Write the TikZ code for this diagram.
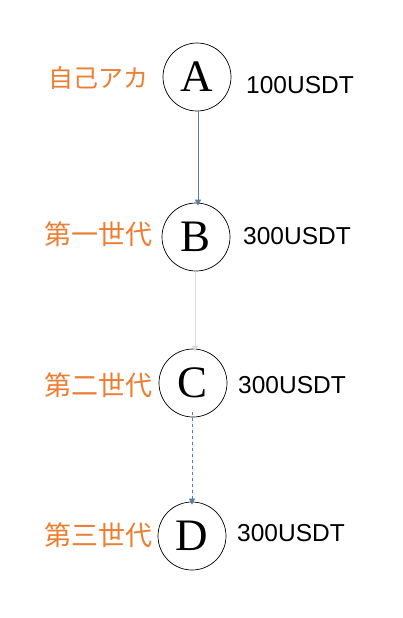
\documentclass[tikz,border=0pt]{standalone}
\usepackage{fontspec}
\setmainfont{Liberation Serif}
\newfontfamily\cjk{Noto Sans CJK JP}
\newfontfamily\amt{Liberation Sans}
\usetikzlibrary{arrows.meta}
\definecolor{lbl}{HTML}{ED7D31}
\definecolor{arr}{HTML}{5B7BAA}
\definecolor{faint}{HTML}{D4DBE8}
\begin{document}
\begin{tikzpicture}[x=1pt,y=-1pt,
  gen/.style={circle,draw=black,line width=0.7pt,minimum size=68pt,inner sep=0pt,
    font=\fontsize{45}{48}\selectfont},
  lab/.style={anchor=east,inner sep=0pt,text=lbl,font=\cjk\fontsize{27}{32}\selectfont},
  money/.style={anchor=west,inner sep=0pt,font=\amt\fontsize{24.5}{30}\selectfont},
  link/.style={line width=0.8pt,-{Triangle[width=6pt,length=6pt]}}]
\useasboundingbox (0,0) rectangle (403,618);
\node[gen] (A) at (197,77) {A};
\node[gen] (B) at (196,237) {B};
\node[gen] (C) at (193,383) {C};
\node[gen] (D) at (192,536) {D};
\node[lab,font=\cjk\fontsize{25}{30}\selectfont] (la) at (149,78) {自己アカ};
\node[lab] (lb) at (153,234) {第一世代};
\node[lab] (lc) at (153,385) {第二世代};
\node[lab] (ld) at (153,535) {第三世代};
\node[money] (ma) at (246,85) {100USDT};
\node[money] (mb) at (243,236) {300USDT};
\node[money] (mc) at (238,385) {300USDT};
\node[money] (md) at (237,533) {300USDT};
\draw[link,draw=arr,fill=arr] ([xshift=1pt]A.south) -- ([xshift=2pt,yshift=-3pt]B.north);
\draw[link,draw=faint,fill=arr] ([xshift=-1pt]B.south) -- ([xshift=2pt,yshift=-3pt]C.north);
\draw[link,draw=arr,fill=arr,dashed,line width=0.6pt] ([xshift=-1pt,yshift=5pt]C.south) -- ([xshift=0pt,yshift=-3pt]D.north);
\end{tikzpicture}
\end{document}
